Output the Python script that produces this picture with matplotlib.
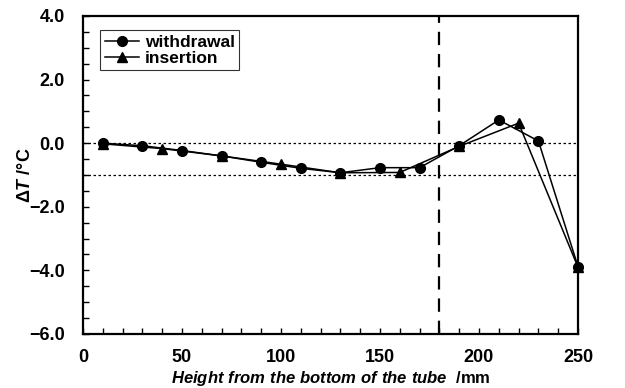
import matplotlib
matplotlib.use("Agg")
import matplotlib.pyplot as plt
from matplotlib.ticker import MultipleLocator

plt.rcParams['font.family'] = ['Liberation Sans', 'DejaVu Sans']
plt.rcParams['mathtext.fontset'] = 'custom'
plt.rcParams['mathtext.rm'] = 'Liberation Sans:bold'
plt.rcParams['mathtext.it'] = 'Liberation Sans:italic:bold'
plt.rcParams['mathtext.bf'] = 'Liberation Sans:bold'

withdrawal_x = [10, 30, 50, 70, 90, 110, 130, 150, 170, 190, 210, 230, 250]
withdrawal_y = [0.0, -0.08, -0.23, -0.40, -0.60, -0.79, -0.93, -0.77, -0.77, -0.08, 0.73, 0.07, -3.88]
insertion_x = [10, 40, 70, 100, 130, 160, 190, 220, 250]
insertion_y = [-0.02, -0.17, -0.40, -0.66, -0.93, -0.92, -0.10, 0.63, -3.90]
ref_lines_y = [0.0, -1.0]
ref_line_x = 180

fig = plt.figure(figsize=(6.25, 3.88), dpi=100)
ax = fig.add_axes([0.1328, 0.1392, 0.792, 0.8196])

for yv in ref_lines_y:
    ax.axhline(yv, color='black', linestyle=(0, (2, 2)), linewidth=0.9, zorder=1)
ax.axvline(ref_line_x, color='black', linestyle=(0, (6, 4)), linewidth=1.6, zorder=1)

ax.plot(withdrawal_x, withdrawal_y, color='black', marker='o', markersize=7,
        linewidth=1.1, label='withdrawal', zorder=3, clip_on=False)
ax.plot(insertion_x, insertion_y, color='black', marker='^', markersize=7,
        linewidth=1.1, label='insertion', zorder=3, clip_on=False)

ax.set_xlim(0, 250)
ax.set_ylim(-6, 4)
ax.xaxis.set_major_locator(MultipleLocator(50))
ax.xaxis.set_minor_locator(MultipleLocator(10))
ax.yaxis.set_minor_locator(MultipleLocator(0.5))
ax.tick_params(which='both', direction='in', top=False, right=False, labelsize=13)
ax.tick_params(which='major', length=4, width=1)
ax.tick_params(which='minor', length=4, width=1)
ax.tick_params(axis='x', pad=11)
ax.tick_params(axis='y', pad=13)
ax.set_yticks([4, 2, 0, -2, -4, -6])
ax.set_yticklabels(['4.0', '2.0', '0.0', '\u22122.0', '\u22124.0', '\u22126.0'])
ax.set_xticks([0, 50, 100, 150, 200, 250])
ax.set_xticklabels(['0', '50', '100', '150', '200', '250'])
for lab in ax.get_xticklabels() + ax.get_yticklabels():
    lab.set_fontweight('bold')
for sp in ax.spines.values():
    sp.set_linewidth(1.6)

ax.set_xlabel(r'$\mathit{Height\ from\ the\ bottom\ of\ the\ tube}$  /mm', fontsize=12,
              fontweight='bold', labelpad=2)
ax.set_ylabel(r'$\mathit{\Delta T}$ /°C', fontsize=13, fontweight='bold')
ax.yaxis.set_label_coords(-0.1, 0.5)

leg = ax.legend(loc='upper left', bbox_to_anchor=(0.035, 0.955), frameon=True, fancybox=False,
                edgecolor='black', handlelength=2.0, borderpad=0.25, labelspacing=0.05,
                handletextpad=0.3, borderaxespad=0.0, prop={'weight': 'bold', 'size': 12.5})
leg.get_frame().set_linewidth(0.8)

fig.savefig('out.png', dpi=100)
